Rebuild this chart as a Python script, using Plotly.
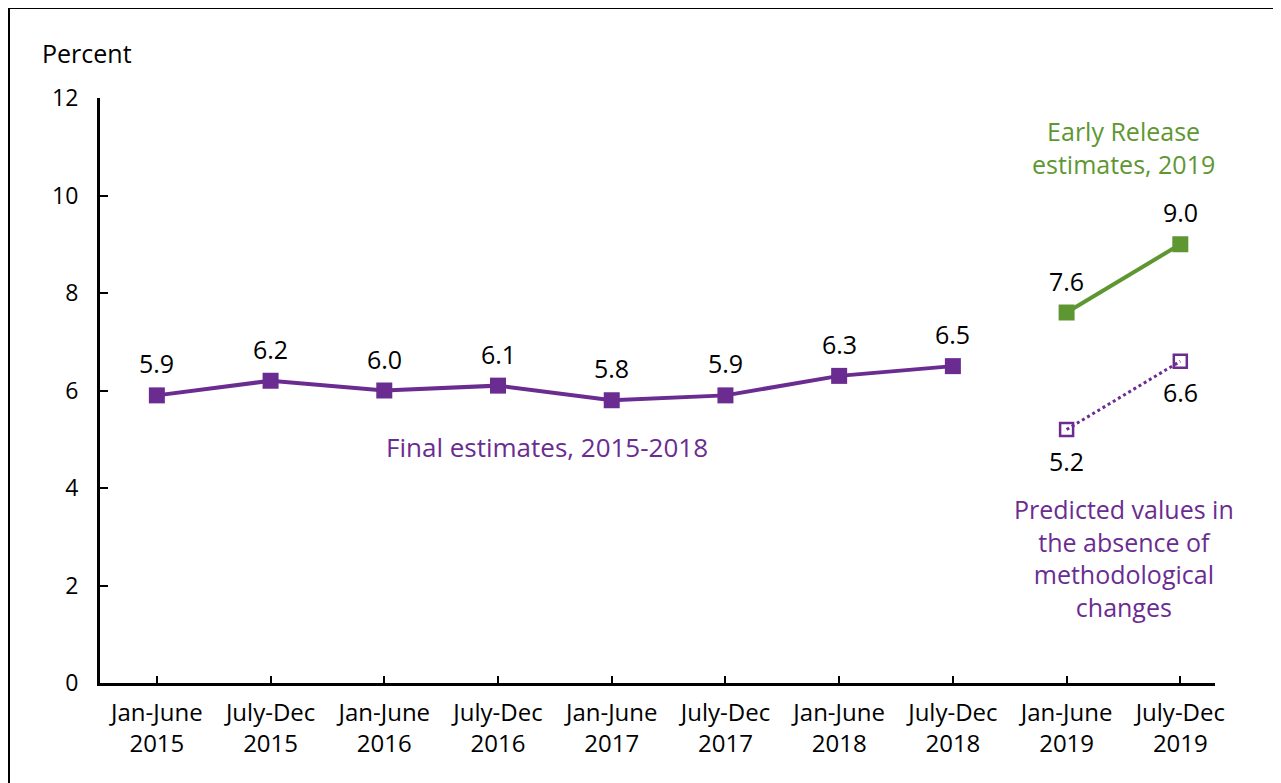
import plotly.graph_objects as go

categories = ["Jan-June<br>2015", "July-Dec<br>2015", "Jan-June<br>2016", "July-Dec<br>2016",
              "Jan-June<br>2017", "July-Dec<br>2017", "Jan-June<br>2018", "July-Dec<br>2018",
              "Jan-June<br>2019", "July-Dec<br>2019"]
x_final = [0, 1, 2, 3, 4, 5, 6, 7]
final_values = [5.9, 6.2, 6.0, 6.1, 5.8, 5.9, 6.3, 6.5]
x_2019 = [8, 9]
early_release = [7.6, 9.0]
predicted = [5.2, 6.6]
y_ticks = [0, 2, 4, 6, 8, 10, 12]

PURPLE = "#6b2c91"
GREEN = "#5e9732"
FONT = "Open Sans"
FS = 25

# page body margin shifts the figure by 8px; compensate
OFF = 8
W, H = 1281, 783
PLOT_L, PLOT_R, PLOT_T, PLOT_B = 100, 1215, 98, 683
L = PLOT_L - OFF
T = PLOT_T - OFF
R = W - (PLOT_R - OFF)
B = H - (PLOT_B - OFF)

fig = go.Figure()
fig.add_trace(go.Scatter(x=x_final, y=final_values, mode="lines+markers",
                         line=dict(color=PURPLE, width=4),
                         marker=dict(symbol="square", size=16, color=PURPLE),
                         showlegend=False, hoverinfo="skip"))
fig.add_trace(go.Scatter(x=x_2019, y=early_release, mode="lines+markers",
                         line=dict(color=GREEN, width=4),
                         marker=dict(symbol="square", size=16, color=GREEN),
                         showlegend=False, hoverinfo="skip"))
fig.add_trace(go.Scatter(x=x_2019, y=predicted, mode="lines+markers",
                         line=dict(color=PURPLE, width=3, dash="dot"),
                         marker=dict(symbol="square-open", size=13, color=PURPLE,
                                     line=dict(width=2.5, color=PURPLE)),
                         showlegend=False, hoverinfo="skip"))

annotations = []
for xv, yv in zip(x_final, final_values):
    annotations.append(dict(x=xv, y=yv, text=f"{yv:.1f}", showarrow=False, yshift=32,
                            font=dict(size=FS, color="black", family=FONT)))
for xv, yv in zip(x_2019, early_release):
    annotations.append(dict(x=xv, y=yv, text=f"{yv:.1f}", showarrow=False, yshift=32,
                            font=dict(size=FS, color="black", family=FONT)))
for xv, yv in zip(x_2019, predicted):
    annotations.append(dict(x=xv, y=yv, text=f"{yv:.1f}", showarrow=False, yshift=-31,
                            font=dict(size=FS, color="black", family=FONT)))

def px_x(p):
    return (p - PLOT_L) / (PLOT_R - PLOT_L)

def px_y(p):
    return (PLOT_B - p) / (PLOT_B - PLOT_T)

annotations += [
    dict(xref="paper", yref="paper", x=px_x(40), y=px_y(53), xanchor="left", yanchor="middle",
         text="Percent", showarrow=False, font=dict(size=FS, color="black", family=FONT)),
    dict(xref="paper", yref="paper", x=px_x(547), y=px_y(447), xanchor="center", yanchor="middle",
         text="Final estimates, 2015-2018", showarrow=False, font=dict(size=26, color=PURPLE, family=FONT)),
    dict(xref="paper", yref="paper", x=px_x(1123), y=px_y(147), xanchor="center", yanchor="middle",
         text="Early Release<br>estimates, 2019", showarrow=False, font=dict(size=FS, color=GREEN, family=FONT)),
    dict(xref="paper", yref="paper", x=px_x(1124), y=px_y(558), xanchor="center", yanchor="middle",
         text="Predicted values in<br>the absence of<br>methodological<br>changes", showarrow=False,
         font=dict(size=FS, color=PURPLE, family=FONT)),
]

shapes = [
    dict(type="line", xref="paper", yref="paper", x0=px_x(9), x1=px_x(9), y0=px_y(8), y1=px_y(800),
         line=dict(color="black", width=2)),
    dict(type="line", xref="paper", yref="paper", x0=px_x(9), x1=px_x(1300), y0=px_y(8), y1=px_y(8),
         line=dict(color="black", width=2)),
]

fig.update_layout(
    width=W, height=H,
    margin=dict(l=L, r=R, t=T, b=B),
    paper_bgcolor="white", plot_bgcolor="white",
    font=dict(family=FONT, size=FS, color="black"),
    annotations=annotations, shapes=shapes,
    xaxis=dict(range=[-0.5, 9.305], tickvals=list(range(len(categories))), ticktext=categories,
               showgrid=False, zeroline=False, showline=True, linecolor="black", linewidth=3,
               ticks="inside", ticklen=7, tickwidth=2, tickcolor="black",
               ticklabelstandoff=6, tickfont=dict(size=24, family=FONT)),
    yaxis=dict(range=[0, 12], tickvals=y_ticks, showgrid=False, zeroline=False,
               showline=True, linecolor="black", linewidth=3,
               ticks="inside", ticklen=8, tickwidth=2, tickcolor="black",
               ticklabelstandoff=14, tickfont=dict(size=23, family=FONT)),
)

fig.write_html("out.html")
